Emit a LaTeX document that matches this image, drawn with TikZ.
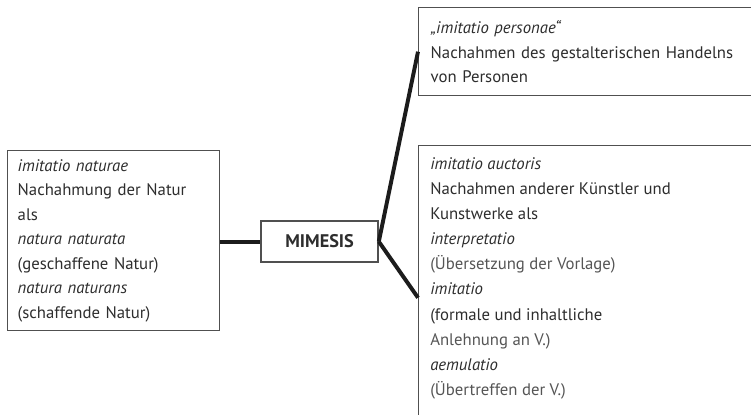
\documentclass[tikz,border=0pt]{standalone}
\usepackage{fontspec}
\setmainfont{PT Sans}
\usepackage{xcolor}
\usepackage{tikz}
\usetikzlibrary{positioning, calc}
\definecolor{mydark}{RGB}{28,28,28}
\definecolor{mytext}{RGB}{45,45,45}
\definecolor{mygrey}{RGB}{85,85,85}
\definecolor{myframe}{RGB}{80,80,80}
\tikzset{
  frame/.style={rectangle, draw=myframe, line width=1pt, fill=none},
  textbox/.style={frame, align=left, text=mytext,
    font=\fontsize{11.9}{17.4}\selectfont, inner xsep=0.25cm},
  plaintext/.style={align=left, text=mytext,
    font=\fontsize{11.9}{17.9}\selectfont, inner sep=0pt},
  centerbox/.style={frame, minimum width=2.925cm, minimum height=1.025cm,
    font=\fontsize{13}{15}\selectfont\bfseries, text=mytext},
  link/.style={line width=2.8pt, color=mydark}
}

\begin{document}
\begin{tikzpicture}
  % Canvas
  \useasboundingbox (0,0) rectangle (18.775,-10.375);
  \clip (0,0) rectangle (18.775,-10.375);
  % Centre
  \node[centerbox] (mimesis) at (7.99,-6.04) {MIMESIS};
  % Left box
  \node[textbox, anchor=north west, text width=4.8cm, minimum height=4.5cm]
    (natur) at (0.175,-3.75) {%
    \textit{imitatio naturae}\\
    Nachahmung der Natur\\
    als\\
    \textit{natura naturata}\\
    (geschaffene Natur)\\
    \textit{natura naturans}\\
    (schaffende Natur)};
  % Upper right box
  \node[textbox, anchor=north west, text width=8.7cm, minimum height=2.2cm,
    inner xsep=0.3cm] (personae) at (10.45,-0.175) {%
    \textit{„imitatio personae“}\\
    Nachahmen des gestalterischen Handelns\\
    von Personen};
  % Lower right box (runs off the page)
  \node[frame, anchor=north west, minimum width=9cm, minimum height=7.6cm]
    (auctoris) at (10.45,-3.625) {};
  \node[plaintext, anchor=north west, below right=0.3cm and 0.3cm of auctoris.north west]
    (auctoristext) {%
    \textit{imitatio auctoris}\\
    Nachahmen anderer Künstler und\\
    Kunstwerke als\\
    \textit{interpretatio}\\
    \textcolor{mygrey}{(Übersetzung der Vorlage)}\\
    \textit{imitatio}\\
    (formale und inhaltliche\\
    \textcolor{mygrey}{Anlehnung an V.)}\\
    \textit{aemulatio}\\
    \textcolor{mygrey}{(Übertreffen der V.)}};
  % Connectors
  \draw[link] (natur.east |- mimesis.west) -- (mimesis.west);
  \draw[link] (mimesis.east) -- (personae.west);
  \draw[link] (mimesis.east) -- (auctoris.west);
\end{tikzpicture}
\end{document}
